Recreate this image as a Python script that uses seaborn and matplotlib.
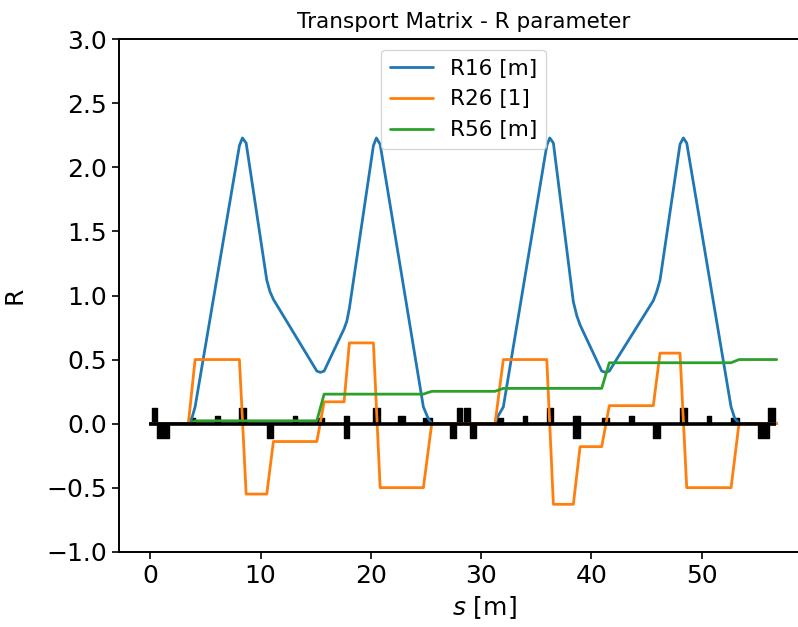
import numpy as np
import pandas as pd
import matplotlib
matplotlib.use("Agg")
import matplotlib.pyplot as plt
from matplotlib.patches import Rectangle
import seaborn as sns

# ---- Optics functions along the beamline (s in metres) ----
s_r16 = [0.0, 3.45, 3.76, 4.06, 8.08, 8.35, 8.69, 10.56, 10.85, 11.16, 15.10, 15.42, 15.76,
         17.57, 17.82, 18.05, 20.23, 20.50, 20.84, 24.76, 25.20, 25.52, 31.26, 31.41, 32.01,
         35.95, 36.22, 36.55, 38.36, 38.68, 38.97, 40.93, 41.28, 41.62, 45.61, 45.92, 46.22,
         48.03, 48.33, 48.64, 52.66, 53.00, 53.38, 56.80]
r16 = [0.0, 0.0, 0.04, 0.13, 2.17, 2.23, 2.19, 1.12, 1.03, 0.97, 0.41, 0.40, 0.41,
       0.74, 0.80, 0.90, 2.17, 2.23, 2.18, 0.13, 0.04, 0.0, 0.0, 0.04, 0.13,
       2.17, 2.23, 2.19, 0.95, 0.84, 0.77, 0.41, 0.40, 0.41, 0.96, 1.03, 1.12,
       2.18, 2.23, 2.19, 0.13, 0.04, 0.0, 0.0]

s_r26 = [0.0, 3.45, 4.06, 8.08, 8.69, 10.56, 11.16, 15.10, 15.76, 17.57, 18.05, 20.23, 20.84,
         24.76, 25.52, 31.26, 32.01, 35.95, 36.55, 38.36, 38.97, 40.93, 41.62, 45.61, 46.22,
         48.03, 48.64, 52.66, 53.38, 56.80]
r26 = [0.0, 0.0, 0.50, 0.50, -0.55, -0.55, -0.14, -0.14, 0.17, 0.17, 0.63, 0.63, -0.50,
       -0.50, 0.0, 0.0, 0.50, 0.50, -0.63, -0.63, -0.18, -0.18, 0.14, 0.14, 0.55,
       0.55, -0.50, -0.50, 0.0, 0.0]

s_r56 = [0.0, 3.45, 4.06, 15.10, 15.76, 24.76, 25.52, 31.26, 32.01, 40.93, 41.62, 52.66, 53.38, 56.80]
r56 = [0.0, 0.0, 0.022, 0.022, 0.23, 0.23, 0.252, 0.252, 0.275, 0.275, 0.475, 0.475, 0.50, 0.50]

labels = ["R16 [m]", "R26 [1]", "R56 [m]"]
colors = ["#1f77b4", "#ff7f0e", "#2ca02c"]

# ---- Lattice elements: (start, end) in metres ----
quad_focus = [(0.15, 0.60), (8.08, 8.69), (20.23, 20.84), (27.82, 28.30), (28.45, 28.95),
              (35.95, 36.55), (48.03, 48.64), (56.05, 56.62)]
quad_defocus = [(0.60, 1.70), (10.56, 11.16), (17.57, 18.05), (27.18, 27.72), (29.02, 29.55),
                (38.36, 38.97), (45.61, 46.22), (55.13, 56.10)]
sextupoles = [(5.87, 6.33), (12.92, 13.28), (17.57, 18.05), (22.49, 23.10), (33.77, 34.19),
              (38.36, 38.97), (43.44, 43.86), (50.45, 50.82)]
bends = [(3.45, 4.06), (15.10, 15.76), (24.76, 25.52), (31.26, 32.01), (40.93, 41.62), (52.66, 53.38)]
beamline = [-0.08, 56.75]

sns.set_theme(style="ticks")
plt.rcParams["font.family"] = ["DejaVu Sans"]
plt.rcParams.update({"text.color": "black", "axes.labelcolor": "black",
                     "xtick.color": "black", "ytick.color": "black",
                     "axes.edgecolor": "black"})

fig = plt.figure(figsize=(7.98, 6.27), dpi=100)
ax_w = 731
ax = fig.add_axes([119 / 798, 75.3 / 627, ax_w / 798, 512.4 / 627])

for s, r, lab, col in zip([s_r16, s_r26, s_r56], [r16, r26, r56], labels, colors):
    df = pd.DataFrame({"s": s, "R": r})
    sns.lineplot(data=df, x="s", y="R", ax=ax, color=col, label=lab, lw=2,
                 estimator=None, sort=False, zorder=3)


def draw(elems, y0, y1):
    for a, b in elems:
        ax.add_patch(Rectangle((a, y0), b - a, y1 - y0, facecolor="black", edgecolor="black",
                               lw=1.0, joinstyle="round", zorder=2))


draw(quad_focus, 0.0, 0.122)
draw(quad_defocus, -0.113, 0.0)
draw(sextupoles, 0.0, 0.062)
draw(bends, -0.005, 0.045)
ax.plot(beamline, [0, 0], color="black", lw=2.6, zorder=4, solid_capstyle="butt")

ax.set_xlim(-2.84, -2.84 + ax_w / 11.028)
ax.set_ylim(-1.0, 3.0)
ax.set_yticks(np.arange(-1.0, 3.01, 0.5))
ax.set_xticks([0, 10, 20, 30, 40, 50])
ax.tick_params(labelsize=18, length=5, width=1.2, color="black", labelcolor="black")
for sp in ax.spines.values():
    sp.set_linewidth(1.4)
    sp.set_color("black")

ax.set_xlabel("$s$ [m]", fontsize=18, labelpad=5)
ax.set_ylabel("R", fontsize=18, labelpad=14)
# keep the title and legend centred on the visible part of the axes
mid = (-2.84 + (-2.84 + 689 / 11.028)) / 2
ax.set_title("Transport Matrix - R parameter", fontsize=15.5, pad=8,
             x=(mid + 2.84) / (ax_w / 11.028))
ax.legend(loc="upper center", fontsize=15.5, frameon=True,
          bbox_to_anchor=((mid + 2.84) / (ax_w / 11.028), 1.0))

fig.savefig("out.png", dpi=100)
